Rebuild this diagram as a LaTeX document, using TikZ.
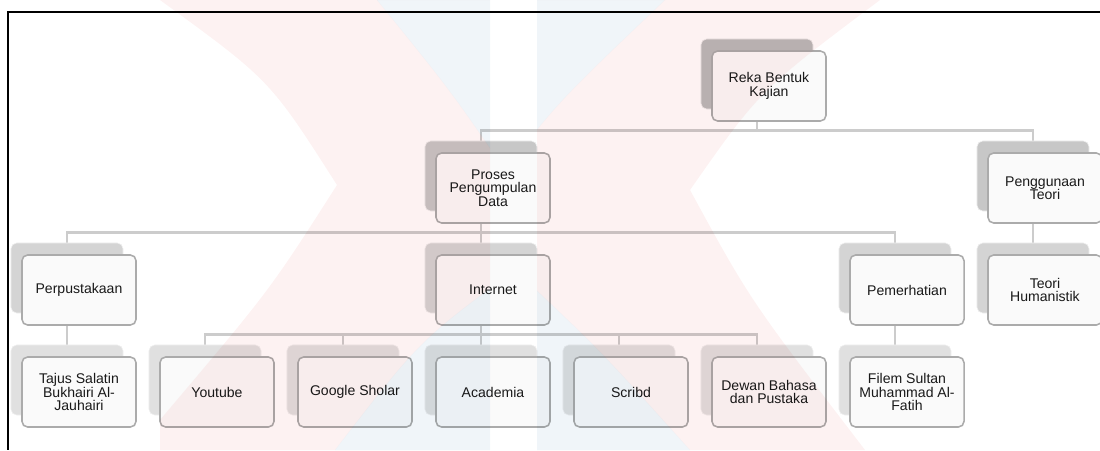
\documentclass[tikz,border=0pt]{standalone}
\usepackage{fontspec}
\setmainfont{Liberation Sans}
\usetikzlibrary{backgrounds}

\definecolor{wmpink}{RGB}{253,242,242}
\definecolor{wmblue}{RGB}{240,245,249}
\colorlet{lvl0}{black!27}
\colorlet{lvl1}{black!22}
\colorlet{lvl2}{black!17}
\colorlet{lvl3}{black!12}

\tikzset{
    shade box/.style={rounded corners=4pt, minimum width=2.8cm, minimum height=1.75cm, draw=black!6, line width=0.4pt},
    item box/.style={rounded corners=4pt, minimum width=2.85cm, minimum height=1.75cm, draw=black!33, line width=1.1pt, fill=black!2, align=center, text=black!90, font=\fontsize{10}{9.6}\selectfont, inner sep=1pt},
    link/.style={draw=black!20, line width=2pt},
}

\begin{document}
\begin{tikzpicture}[x=0.025cm, y=-0.025cm]
    \useasboundingbox (0,0) rectangle (1100,450);

    % frame
    \draw[line width=1.4pt] (1100,12) -- (8,12) -- (8,450);

    % boxes: shade behind, item in front
    \foreach \name/\col/\row/\txt in {
        root/5/0/{Reka Bentuk\\Kajian},
        proses/3/1/{Proses\\Pengumpulan\\Data},
        guna/7/1/{Penggunaan\\Teori},
        pustaka/0/2/{Perpustakaan},
        internet/3/2/{Internet},
        perhati/6/2/{Pemerhatian},
        teori/7/2/{Teori\\Humanistik},
        tajus/0/3/{Tajus Salatin\\Bukhairi Al-\\Jauhairi},
        youtube/1/3/{Youtube},
        google/2/3/{Google Sholar},
        academia/3/3/{Academia},
        scribd/4/3/{Scribd},
        dewan/5/3/{Dewan Bahasa\\dan Pustaka},
        filem/6/3/{Filem Sultan\\Muhammad Al-\\Fatih}} {
        \node[shade box, fill=lvl\row] (\name) at (67+138*\col, 74+102*\row) {};
        \node[item box] (\name-f) at (79+138*\col, 86+102*\row) {\txt};
    }

    % connectors
    \begin{scope}[on background layer]
        \foreach \a/\b in {root/proses, root/guna, proses/pustaka, proses/internet, proses/perhati,
            guna/teori, pustaka/tajus, internet/youtube, internet/google, internet/academia,
            internet/scribd, internet/dewan, perhati/filem}
            \draw[link] (\a.south) -- ++(0,21) -| (\b.north);
    \end{scope}

    % watermark
    \begin{scope}[blend mode=multiply]
        \foreach \a/\b in {0/490, 537/1100} {
            \begin{scope}
                \clip (\a,0) rectangle (\b,450);
                \fill[wmpink, even odd rule] (160,0) .. controls (270,80) .. (337,185) .. controls (270,290) .. (160,420)
                    -- (160,450) -- (865,450) .. controls (750,300) .. (690,190) .. controls (760,90) .. (880,0) -- cycle
                    (377,0) -- (665,0) .. controls (560,100) .. (505,170) .. controls (450,90) .. (377,0) -- cycle
                    (335,450) .. controls (420,340) .. (515,270) .. controls (600,350) .. (690,450) -- cycle;
                \fill[wmblue] (377,0) -- (665,0) .. controls (560,100) .. (505,170) .. controls (450,90) .. (377,0) -- cycle;
                \fill[wmblue] (335,450) .. controls (420,340) .. (515,270) .. controls (600,350) .. (690,450) -- cycle;
            \end{scope}
        }
    \end{scope}
\end{tikzpicture}
\end{document}
